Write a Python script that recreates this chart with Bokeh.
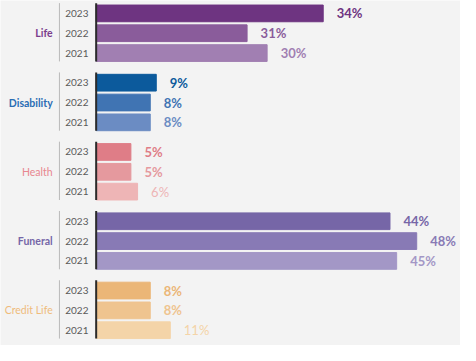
from bokeh.plotting import figure
from bokeh.models import Range1d, ColumnDataSource
from bokeh.core.properties import value
from bokeh.embed import file_html
from bokeh.resources import INLINE

# ---- data ----
categories = ["Life", "Disability", "Health", "Funeral", "Credit Life"]
years = ["2023", "2022", "2021"]
share_2023 = [34, 9, 5, 44, 8]
share_2022 = [31, 8, 5, 48, 8]
share_2021 = [30, 8, 6, 45, 11]
# bar lengths as drawn in the picture (Life 2022/2021 bars are drawn shorter than their labels)
drawn_2023 = [34, 9, 5.2, 44, 8.1]
drawn_2022 = [22.6, 8.1, 5.2, 48, 8.1]
drawn_2021 = [25.6, 8.1, 6.2, 45, 11.1]

# ---- styles ----
bar_colors = {
    "Life": ["#6e3481", "#8a5c9b", "#a17fb2"],
    "Disability": ["#0c5a9c", "#4074b3", "#6b8cc3"],
    "Health": ["#df7d87", "#e5999e", "#eeb5b6"],
    "Funeral": ["#7666a7", "#887ab5", "#a397c6"],
    "Credit Life": ["#ebb677", "#efc48f", "#f4d4a8"],
}
label_colors = {
    "Life": "#7a3d8c",
    "Disability": "#2a6db3",
    "Health": "#e8868f",
    "Funeral": "#7566a8",
    "Credit Life": "#efbb7b",
}
cat_weight = {"Life": "bold", "Disability": "bold", "Health": "normal",
              "Funeral": "bold", "Credit Life": "normal"}
val_weight_2021 = {"Life": "bold", "Disability": "bold", "Health": "normal",
                   "Funeral": "bold", "Credit Life": "normal"}

BG = "#f3f3f3"
FONT = value("Lato")
PX_PER = 6.91          # reference pixels per percentage point
ROW0, GROUP_STEP, ROW_STEP, BAR_H = 13.5, 72.5, 20.75, 17.5
S = 460 / 476          # screen scale

p = figure(width=460, height=345,
           x_range=Range1d(-99 / PX_PER, (476 - 99) / PX_PER),
           y_range=Range1d(361, 0),
           output_backend="svg", toolbar_location=None, min_border=0)
p.axis.visible = False
p.grid.visible = False
p.outline_line_color = None
p.background_fill_color = BG
p.border_fill_color = BG

shares = [share_2023, share_2022, share_2021]
drawn = [drawn_2023, drawn_2022, drawn_2021]

rows = dict(y=[], right=[], color=[], label=[], year=[], weight=[])
for g, cat in enumerate(categories):
    for k, yr in enumerate(years):
        y = ROW0 + g * GROUP_STEP + k * ROW_STEP
        rows["y"].append(y)
        rows["right"].append(drawn[k][g])
        rows["color"].append(bar_colors[cat][k])
        rows["label"].append(f"{shares[k][g]}%")
        rows["year"].append(yr)
        rows["weight"].append("bold" if k < 2 else val_weight_2021[cat])
src = ColumnDataSource(rows)

p.hbar(y="y", left=0, right="right", height=BAR_H, color="color", source=src)

# value labels
p.text(x="right", y="y", text="label", x_offset=14 * S, text_color="color",
       text_font_size="13px", text_font_style="weight", text_font=FONT,
       text_baseline="middle", text_align="left", source=src)

# year labels
p.text(x=0, y="y", text="year", x_offset=-8 * S, text_color="#5a5a5a",
       text_font_size="10px", text_font=FONT, text_baseline="middle",
       text_align="right", source=src)

# group decorations
for g, cat in enumerate(categories):
    top = ROW0 + g * GROUP_STEP - BAR_H / 2 - 2
    bot = ROW0 + g * GROUP_STEP + 2 * ROW_STEP + BAR_H / 2
    mid = ROW0 + g * GROUP_STEP + ROW_STEP
    p.segment(x0=[-38 / PX_PER], y0=[top], x1=[-38 / PX_PER], y1=[bot],
              line_color="#b9b9b9", line_width=1)
    p.segment(x0=[0], y0=[top], x1=[0], y1=[bot], line_color="#2b2b2b", line_width=2)
    p.text(x=[0], y=[mid], text=[cat], x_offset=-45 * S, text_color=label_colors[cat],
           text_font_size="10.5px", text_font=FONT, text_font_style=cat_weight[cat],
           text_baseline="middle", text_align="right")

open("out.html", "w").write(file_html(p, INLINE))
